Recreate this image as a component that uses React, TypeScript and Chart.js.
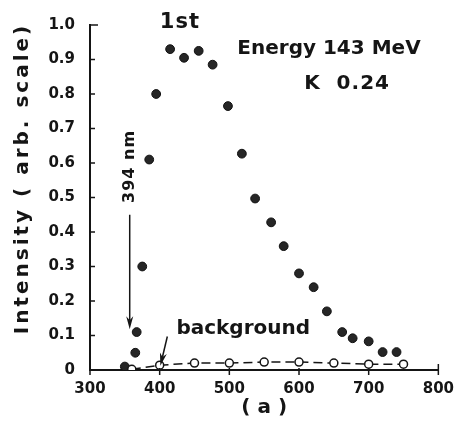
import React, { useEffect, useRef } from "react";
import { Chart, registerables } from "chart.js";

Chart.register(...registerables);

// Filled points: first harmonic intensity
const mainX = [350, 365, 367, 375, 385, 395, 415, 435, 456, 476, 498, 518, 537, 560, 578, 600, 621, 640, 662, 677, 700, 720, 740];
const mainY = [0.01, 0.05, 0.11, 0.30, 0.61, 0.80, 0.93, 0.905, 0.925, 0.885, 0.765, 0.627, 0.497, 0.428, 0.359, 0.28, 0.24, 0.17, 0.11, 0.092, 0.083, 0.052, 0.052];

// Open circles: background
const bgX = [360, 400, 450, 500, 550, 600, 650, 700, 750];
const bgY = [0.002, 0.014, 0.02, 0.02, 0.023, 0.023, 0.02, 0.017, 0.017];

const xTicks = [300, 400, 500, 600, 700, 800];
const yTicks = [0, 0.1, 0.2, 0.3, 0.4, 0.5, 0.6, 0.7, 0.8, 0.9, 1.0];
const yTickLabels = ["0", "0.1", "0.2", "0.3", "0.4", "0.5", "0.6", "0.7", "0.8", "0.9", "1.0"];

const FONT = "'DejaVu Sans', sans-serif";
const INK = "#151515";

const decorPlugin = {
  id: "decor",
  afterDatasetsDraw(chart: any) {
    const { ctx, scales } = chart;
    const xs = scales.x;
    const ys = scales.y;
    const X = (v: number) => xs.getPixelForValue(v);
    const Y = (v: number) => ys.getPixelForValue(v);
    ctx.save();
    ctx.strokeStyle = INK;
    ctx.fillStyle = INK;
    ctx.lineWidth = 1.5;
    // y ticks (inward)
    yTicks.forEach((t) => {
      ctx.beginPath();
      ctx.moveTo(X(300), Y(t));
      ctx.lineTo(X(300) + (t === 1 ? 8 : 5), Y(t));
      ctx.stroke();
    });
    // x ticks
    xTicks.forEach((t) => {
      ctx.beginPath();
      ctx.moveTo(X(t), Y(0) - (t === 800 ? 6 : 2));
      ctx.lineTo(X(t), Y(0) + 5);
      ctx.stroke();
    });

    const text = (s: string, x: number, y: number, size: number, align: CanvasTextAlign = "center", weight = "bold", spacing = "0px") => {
      ctx.font = `${weight} ${size}px ${FONT}`;
      ctx.textAlign = align;
      ctx.textBaseline = "middle";
      (ctx as any).letterSpacing = spacing;
      ctx.fillText(s, x, y);
      (ctx as any).letterSpacing = "0px";
    };
    text("1st", X(429), Y(1.008), 21, "center", "bold", "1px");
    text("Energy 143 MeV", X(643), Y(0.93), 20);
    text("K  0.24", X(669), Y(0.83), 20, "center", "bold", "1px");
    text("background", X(424), Y(0.118), 20, "left");
    text("( a )", X(550), Y(0) + 38, 20);

    // rotated 394 nm
    ctx.save();
    ctx.translate(X(357), Y(0.59));
    ctx.rotate(-Math.PI / 2);
    text("394 nm", 0, 0, 16, "center", "bold", "1px");
    ctx.restore();

    // y-axis title
    ctx.save();
    ctx.translate(X(300) - 67, Y(0.555));
    ctx.rotate(-Math.PI / 2);
    text("Intensity ( arb. scale)", 0, 0, 20, "center", "bold", "3px");
    ctx.restore();

    const arrow = (x1: number, y1: number, x2: number, y2: number) => {
      const ang = Math.atan2(y2 - y1, x2 - x1);
      const L = 13, W = 3.5;
      ctx.beginPath();
      ctx.moveTo(x1, y1);
      ctx.lineTo(x2 - Math.cos(ang) * L * 0.7, y2 - Math.sin(ang) * L * 0.7);
      ctx.stroke();
      ctx.beginPath();
      ctx.moveTo(x2, y2);
      ctx.lineTo(x2 - Math.cos(ang) * L - Math.sin(ang) * W, y2 - Math.sin(ang) * L + Math.cos(ang) * W);
      ctx.lineTo(x2 - Math.cos(ang) * L * 0.7, y2 - Math.sin(ang) * L * 0.7);
      ctx.lineTo(x2 - Math.cos(ang) * L + Math.sin(ang) * W, y2 - Math.sin(ang) * L - Math.cos(ang) * W);
      ctx.closePath();
      ctx.fill();
    };
    arrow(X(357), Y(0.45), X(357), Y(0.118));
    arrow(X(411), Y(0.097), X(401), Y(0.012));
    ctx.restore();
  },
};

export default function App() {
  const ref = useRef<HTMLCanvasElement | null>(null);
  useEffect(() => {
    if (!ref.current) return;
    const chart = new Chart(ref.current, {
      type: "scatter",
      data: {
        datasets: [
          {
            label: "background",
            data: bgX.map((x, i) => ({ x, y: bgY[i] })),
            showLine: true,
            borderColor: INK,
            borderWidth: 1.5,
            borderDash: [9, 5],
            pointRadius: 4,
            pointBackgroundColor: "#ffffff",
            pointBorderColor: INK,
            pointBorderWidth: 1.5,
          },
          {
            label: "1st",
            data: mainX.map((x, i) => ({ x, y: mainY[i] })),
            showLine: false,
            pointRadius: 4.4,
            pointBackgroundColor: "#262626",
            pointBorderColor: "#111",
            pointBorderWidth: 1,
          },
        ],
      },
      options: {
        animation: false,
        responsive: false,
        maintainAspectRatio: false,
        layout: { padding: { left: 0, top: 25, right: 24, bottom: 0 } },
        plugins: { legend: { display: false }, tooltip: { enabled: false }, title: { display: false } },
        scales: {
          x: {
            type: "linear",
            min: 300,
            max: 800,
            afterFit: (s: any) => { s.height = 59; },
            afterBuildTicks: (s: any) => { s.ticks = xTicks.map((v) => ({ value: v })); },
            ticks: { color: INK, font: { family: FONT, size: 15, weight: "bold" }, padding: 10, maxRotation: 0, autoSkip: false },
            grid: { display: false, drawTicks: false },
            border: { display: true, color: INK, width: 2 },
          },
          y: {
            type: "linear",
            min: 0,
            max: 1.0,
            afterFit: (s: any) => { s.width = 90; },
            afterBuildTicks: (s: any) => { s.ticks = yTicks.map((v) => ({ value: v })); },
            ticks: {
              color: INK,
              font: { family: FONT, size: 15, weight: "bold" },
              padding: 15,
              autoSkip: false,
              callback: (v: any) => {
                const i = yTicks.findIndex((t) => Math.abs(t - Number(v)) < 1e-6);
                return i >= 0 ? yTickLabels[i] : "";
              },
            },
            grid: { display: false, drawTicks: false },
            border: { display: true, color: INK, width: 2 },
          },
        },
      },
      plugins: [decorPlugin],
    } as any);
    return () => chart.destroy();
  }, []);
  return (
    <div style={{ position: "absolute", left: 0, top: 0, width: 464, height: 429, background: "#fff" }}>
      <canvas ref={ref} width={464} height={429} style={{ width: 464, height: 429 }} />
    </div>
  );
}
